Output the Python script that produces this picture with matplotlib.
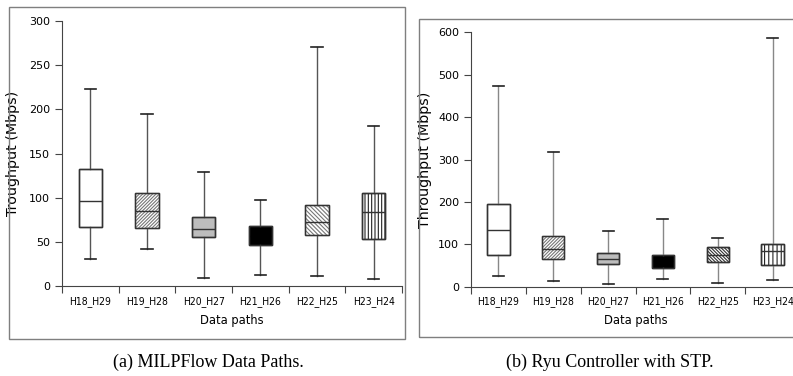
import matplotlib
matplotlib.use("Agg")
import matplotlib.pyplot as plt
from matplotlib.patches import Rectangle

paths = ["H18_H29", "H19_H28", "H20_H27", "H21_H26", "H22_H25", "H23_H24"]

# (a) MILPFlow
milp_low = [31, 41.5, 8.7, 12.5, 11.3, 7.5]
milp_q1 = [67, 65.7, 55.5, 46, 58, 53.2]
milp_med = [96.6, 85, 65, 57, 72, 83.4]
milp_q3 = [133, 105, 78, 67.5, 92, 105.7]
milp_high = [222.6, 194.7, 128.7, 97, 271, 180.8]

# (b) Ryu + STP
ryu_low = [24.4, 12.6, 6.3, 18.9, 9.4, 15.7]
ryu_q1 = [74, 65, 52.7, 44.8, 57.4, 50.3]
ryu_med = [133.7, 89, 66, 60, 75, 85]
ryu_q3 = [195, 120, 78.6, 74.7, 93.6, 101.4]
ryu_high = [474, 318.5, 132, 160.4, 115.6, 586.6]

plt.rcParams['hatch.linewidth'] = 0.8

fig = plt.figure(figsize=(7.93, 3.76), dpi=100)

# panel frames
fig.patches.append(Rectangle((9/793, 1-339/376), 396/793, 332/376, transform=fig.transFigure,
                             fill=False, edgecolor='#7f7f7f', lw=1))
fig.patches.append(Rectangle((419/793, 1-337/376), 400/793, 318/376, transform=fig.transFigure,
                             fill=False, edgecolor='#7f7f7f', lw=1))


def draw(ax, low, q1, med, q3, high, ymax, yticks, ylabel, ylab_x, fills, hatches, hcolors, wcolor):
    stats = []
    for i, name in enumerate(paths):
        stats.append(dict(label=name, whislo=low[i], q1=q1[i], med=med[i], q3=q3[i], whishi=high[i]))
    pos = [i + 0.5 for i in range(len(paths))]
    bp = ax.bxp(stats, positions=pos, widths=0.41, capwidths=0.2, showfliers=False, patch_artist=True,
                medianprops=dict(color='#333333', lw=1),
                whiskerprops=dict(color=wcolor, lw=1),
                capprops=dict(color='#222222', lw=1.2),
                boxprops=dict(lw=1))
    for b, m, fc, h, hc in zip(bp['boxes'], bp['medians'], fills, hatches, hcolors):
        b.set_facecolor(fc)
        b.set_edgecolor(hc)
        if fc == 'black':
            m.set_color('black')
        if h:
            b.set_hatch(h)
        # darker outline on top
        x0, y0 = b.get_path().vertices.min(axis=0)
        x1, y1 = b.get_path().vertices.max(axis=0)
        ax.add_patch(Rectangle((x0, y0), x1 - x0, y1 - y0, fill=False, edgecolor='#333333', lw=1, zorder=3))
    ax.set_xlim(0, 6)
    ax.set_ylim(0, ymax)
    ax.set_yticks(yticks)
    ax.set_xticks(range(7))
    ax.set_xticklabels([])
    ax.set_xticks(pos, minor=True)
    ax.set_xticklabels(paths, minor=True, fontsize=7.5, fontstretch='condensed')
    ax.tick_params(axis='x', which='minor', length=0, pad=7)
    ax.tick_params(axis='x', which='major', length=5, color='#444444')
    ax.tick_params(axis='y', length=5, labelsize=8, color='#444444')
    ax.spines['top'].set_visible(False)
    ax.spines['right'].set_visible(False)
    ax.spines['left'].set_color('#444444')
    ax.spines['bottom'].set_color('#444444')
    ax.set_ylabel(ylabel, fontsize=10.3)
    ax.yaxis.set_label_coords(ylab_x, 0.5)
    ax.set_xlabel('Data paths', fontsize=8.3, labelpad=5)


ax1 = fig.add_axes([62/793, 1-286/376, 340/793, 265/376])
draw(ax1, milp_low, milp_q1, milp_med, milp_q3, milp_high, 300, range(0, 301, 50),
     'Troughput (Mbps)', -0.1235,
     ['white', 'white', '#bdbdbd', 'black', 'white', 'white'],
     [None, '//////////', None, None, '\\\\\\\\\\\\\\\\', '|||||'],
     ['#333333', '#777777', '#333333', '#111111', '#777777', '#222222'], '#555555')

ax2 = fig.add_axes([471/793, 1-286.7/376, 329/793, 254.4/376])
draw(ax2, ryu_low, ryu_q1, ryu_med, ryu_q3, ryu_high, 600, range(0, 601, 100),
     'Throughput (Mbps)', -0.1185,
     ['white', 'white', '#bdbdbd', 'black', 'white', 'white'],
     [None, '//////////', None, None, '\\\\\\\\\\\\\\\\\\\\', '||||'],
     ['#333333', '#777777', '#333333', '#111111', '#333333', '#222222'], '#888888')

fig.text(208/793, 1-362/376, '(a) MILPFlow Data Paths.', ha='center', va='center',
         fontsize=13, family='Liberation Serif')
fig.text(610/793, 1-362/376, '(b) Ryu Controller with STP.', ha='center', va='center',
         fontsize=13, family='Liberation Serif')

fig.savefig('out.png', dpi=100)
